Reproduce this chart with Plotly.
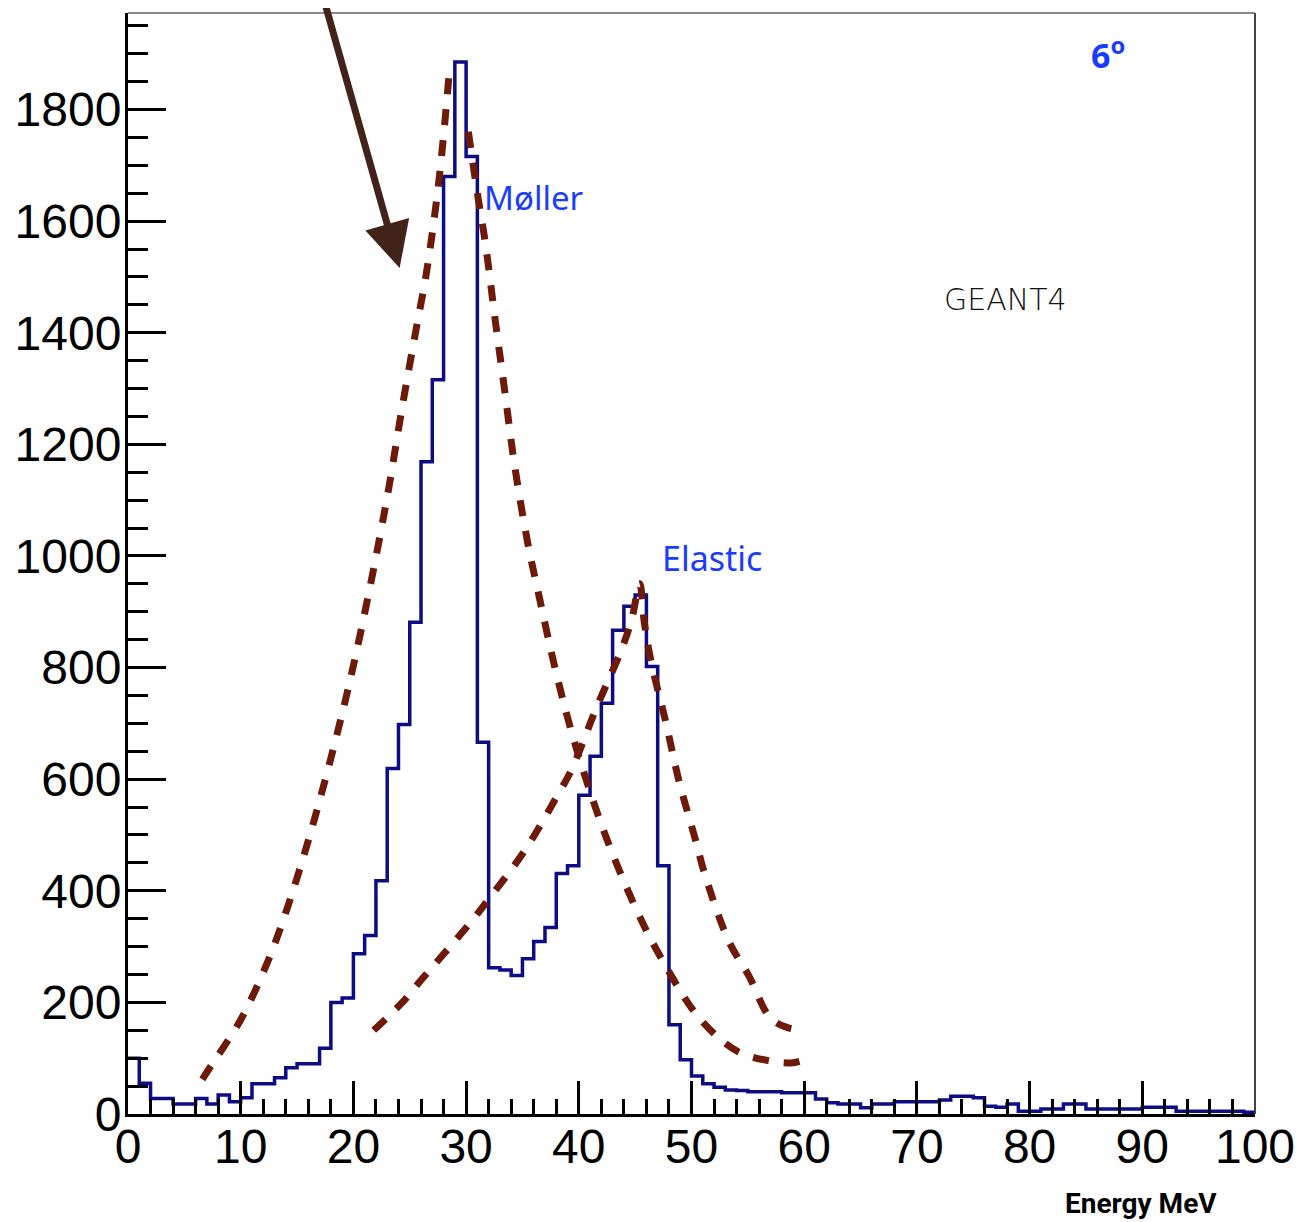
import plotly.graph_objects as go

# ---- data ----
bin_edges = list(range(0, 101))  # 1 MeV bins, 0..100 MeV
counts = [100, 55, 28, 28, 18, 18, 28, 18, 34, 22,
          29, 54, 54, 65, 83, 90, 90, 118, 200, 208,
          287, 320, 418, 619, 698, 881, 1169, 1316, 1680, 1885,
          1716, 666, 262, 258, 248, 278, 309, 334, 431, 445,
          571, 641, 736, 867, 910, 930, 802, 445, 160, 97,
          68, 54, 48, 43, 42, 40, 40, 40, 38, 38,
          38, 27, 20, 18, 18, 11, 18, 18, 22, 22,
          22, 22, 25, 32, 32, 29, 14, 12, 18, 5,
          5, 9, 9, 18, 18, 9, 9, 9, 9, 9,
          12, 12, 12, 5, 5, 5, 5, 5, 5, 3]

moller_left_x = [6.6, 7.0, 10.0, 12.4, 14.2, 16.0, 17.8, 19.6, 21.4, 23.0, 24.4, 25.6, 26.5, 27.6, 28.5]
moller_left_y = [62, 75, 169, 273, 373, 490, 622, 768, 937, 1106, 1275, 1410, 1510, 1675, 1865]

moller_right_x = [30.2, 31.0, 31.7, 32.6, 33.4, 34.3, 35.5, 36.4, 38.0, 39.7, 42.5, 45.7, 48.0, 50.0, 52.0, 54.2, 57.0, 59.0, 60.4]
moller_right_y = [1760, 1650, 1562, 1420, 1300, 1163, 1020, 935, 790, 661, 492, 341, 255, 190, 144, 111, 95, 92, 100]

elastic_x = [21.8, 24.3, 25.8, 30.3, 31.9, 35.2, 38.0, 39.4, 41.5, 43.8, 44.7, 45.4, 45.8, 46.4, 47.7, 48.9, 50.4, 51.1, 53.3, 55.1, 57.0, 58.5, 60.0]
elastic_y = [150, 199, 235, 341, 382, 472, 567, 619, 725, 833, 887, 950, 883, 812, 704, 596, 488, 435, 310, 247, 172, 155, 150]

# ---- figure ----
fig = go.Figure()

hist_y = counts + [counts[-1]]
fig.add_trace(go.Scatter(x=bin_edges, y=hist_y, mode="lines", line_shape="hv",
                         line=dict(color="#0c0c84", width=3.5), showlegend=False))

dash_style = dict(color="#6e1a08", width=7, dash="16px,15px")
for xs, ys in [(moller_left_x, moller_left_y), (moller_right_x, moller_right_y), (elastic_x, elastic_y)]:
    fig.add_trace(go.Scatter(x=xs, y=ys, mode="lines", line_shape="spline",
                             line=dash_style, showlegend=False))

blue = "#1a3cff"
fig.add_annotation(x=36.0, y=1642, text="Møller", showarrow=False,
                   font=dict(family="Noto Sans", size=33, color=blue))
fig.add_annotation(x=51.8, y=996, text="Elastic", showarrow=False,
                   font=dict(family="Noto Sans", size=34, color=blue))
fig.add_annotation(x=87.0, y=1900, text="<b>6<sup>o</sup></b>", showarrow=False,
                   font=dict(family="Noto Sans", size=34, color=blue))
fig.add_annotation(x=77.9, y=1459, text="GEANT4", showarrow=False,
                   font=dict(family="DejaVu Sans", size=30, color="#111111", weight=200))
fig.add_annotation(x=0.899, y=-0.081, xref="paper", yref="paper", xanchor="center", yanchor="middle",
                   text="<b>Energy MeV</b>", showarrow=False,
                   font=dict(family="Roboto", size=28, color="black"))

# arrow
fig.add_annotation(x=24.1, y=1516, ax=17.2, ay=2010, xref="x", yref="y", axref="x", ayref="y",
                   text="", showarrow=True, arrowhead=2, arrowsize=1.3, arrowwidth=7,
                   arrowcolor="#42231a", standoff=0)

# top / right frame lines
fig.add_shape(type="line", xref="paper", yref="paper", x0=0, x1=1, y0=1, y1=1,
              line=dict(color="#8a8a8a", width=2))
fig.add_shape(type="line", xref="paper", yref="paper", x0=1, x1=1, y0=0, y1=1,
              line=dict(color="#444444", width=2))

tickfont = dict(family="Liberation Sans", size=48, color="black")
fig.update_xaxes(range=[0, 100], showgrid=False, zeroline=False,
                 showline=True, linecolor="black", linewidth=3,
                 ticks="inside", ticklen=33, tickwidth=3, tickcolor="black",
                 dtick=10, tick0=0, tickfont=tickfont, ticklabelstandoff=-12,
                 minor=dict(ticks="inside", ticklen=15, tickwidth=3, tickcolor="black", dtick=2, showgrid=False))
fig.update_yaxes(range=[0, 1973], showgrid=False, zeroline=False,
                 showline=True, linecolor="black", linewidth=3,
                 ticks="inside", ticklen=38, tickwidth=3, tickcolor="black",
                 dtick=200, tick0=0, tickfont=tickfont, ticklabelstandoff=-6,
                 minor=dict(ticks="inside", ticklen=20, tickwidth=3, tickcolor="black", dtick=50, showgrid=False))

fig.update_layout(width=1298, height=1214, plot_bgcolor="white", paper_bgcolor="white",
                  margin=dict(l=120, r=51, t=5, b=108), showlegend=False)

fig.write_html("out.html")
